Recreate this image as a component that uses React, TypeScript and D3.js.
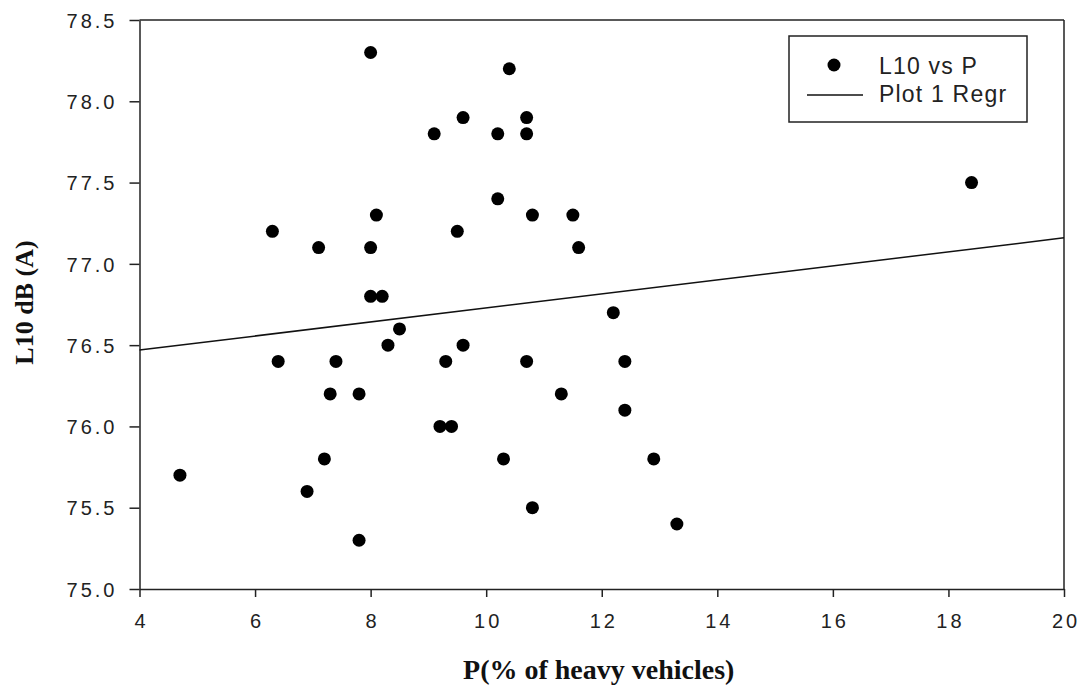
import React, { useEffect, useRef } from 'react'
import * as d3 from 'd3'

// P (% of heavy vehicles) and L10 dB(A)
const pValues = [4.7, 6.3, 6.4, 6.9, 7.1, 7.2, 7.3, 7.4, 7.8, 7.8, 8.0, 8.0, 8.0, 8.1, 8.2, 8.3, 8.5, 9.1, 9.2, 9.3, 9.4, 9.5, 9.6, 9.6, 10.2, 10.2, 10.3, 10.4, 10.7, 10.7, 10.7, 10.8, 10.8, 11.3, 11.5, 11.6, 12.2, 12.4, 12.4, 12.9, 13.3, 18.4]
const l10Values = [75.7, 77.2, 76.4, 75.6, 77.1, 75.8, 76.2, 76.4, 76.2, 75.3, 78.3, 77.1, 76.8, 77.3, 76.8, 76.5, 76.6, 77.8, 76.0, 76.4, 76.0, 77.2, 77.9, 76.5, 77.8, 77.4, 75.8, 78.2, 77.9, 77.8, 76.4, 77.3, 75.5, 76.2, 77.3, 77.1, 76.7, 76.4, 76.1, 75.8, 75.4, 77.5]

// regression line end points (Plot 1 Regr)
const regrP = [4, 20]
const regrL10 = [76.47, 77.16]

const xTicks = [4, 6, 8, 10, 12, 14, 16, 18, 20]
const yTicks = [75.0, 75.5, 76.0, 76.5, 77.0, 77.5, 78.0, 78.5]

const legendLabels = ['L10 vs P', 'Plot 1 Regr']

const W = 1085
const H = 689
const margin = { left: 139.5, right: 21, top: 20, bottom: 100 }

function ScatterChart() {
    const ref = useRef<SVGSVGElement>(null)

    useEffect(() => {
        const svg = d3.select(ref.current)
        svg.selectAll('*').remove()

        const x = d3.scaleLinear().domain([4, 20]).range([margin.left, W - margin.right])
        const y = d3.scaleLinear().domain([75, 78.5]).range([H - margin.bottom, margin.top])

        const axisColor = '#222'
        const tickFont = '"Liberation Sans", Arial, sans-serif'

        // frame top and right
        svg.append('line')
            .attr('x1', x(4)).attr('x2', x(20))
            .attr('y1', y(78.5)).attr('y2', y(78.5))
            .attr('stroke', axisColor).attr('stroke-width', 1.5)
        svg.append('line')
            .attr('x1', x(20)).attr('x2', x(20))
            .attr('y1', y(78.5)).attr('y2', y(75))
            .attr('stroke', axisColor).attr('stroke-width', 1.5)

        const gx = svg.append('g')
            .attr('transform', `translate(0,${y(75)})`)
            .call(d3.axisBottom(x).tickValues(xTicks).tickFormat(d3.format('d')).tickSize(8).tickSizeOuter(0))
        const gy = svg.append('g')
            .attr('transform', `translate(${x(4)},0)`)
            .call(d3.axisLeft(y).tickValues(yTicks).tickFormat(d3.format('.1f')).tickSize(10).tickSizeOuter(0))

        for (const g of [gx, gy]) {
            g.select('.domain').attr('stroke', axisColor).attr('stroke-width', 1.5)
            g.selectAll('.tick line').attr('stroke', axisColor).attr('stroke-width', 1.5)
            g.selectAll('.tick text')
                .attr('fill', axisColor)
                .style('font-family', tickFont)
                .style('font-size', '20px')
                .style('letter-spacing', '3px')
        }
        gx.selectAll('.tick text').attr('y', 25).attr('dy', '0.71em').attr('dx', 1.5)
        gy.selectAll('.tick text').attr('x', -25).attr('dx', 3).attr('dy', '0.36em')

        // regression line
        svg.append('line')
            .attr('x1', x(regrP[0])).attr('x2', x(regrP[1]))
            .attr('y1', y(regrL10[0])).attr('y2', y(regrL10[1]))
            .attr('stroke', '#111').attr('stroke-width', 1.5)

        // points
        svg.append('g')
            .selectAll('circle')
            .data(pValues.map((p, i) => [p, l10Values[i]]))
            .join('circle')
            .attr('cx', d => x(d[0]))
            .attr('cy', d => y(d[1]))
            .attr('r', 6.5)
            .attr('fill', '#000')

        // axis titles
        svg.append('text')
            .attr('x', (x(4) + x(20)) / 2 - 3)
            .attr('y', 679)
            .attr('text-anchor', 'middle')
            .style('font-family', '"Liberation Serif", "Times New Roman", serif')
            .style('font-weight', 'bold')
            .style('font-size', '28px')
            .attr('fill', '#111')
            .text('P(% of heavy vehicles)')

        svg.append('text')
            .attr('transform', `translate(33,${(y(75) + y(78.5)) / 2 - 2}) rotate(-90)`)
            .attr('text-anchor', 'middle')
            .style('font-family', '"Liberation Serif", "Times New Roman", serif')
            .style('font-weight', 'bold')
            .style('font-size', '26px')
            .attr('fill', '#111')
            .text('L10 dB (A)')

        // legend
        const legend = svg.append('g')
        legend.append('rect')
            .attr('x', 789).attr('y', 36)
            .attr('width', 238).attr('height', 86)
            .attr('fill', '#fff').attr('stroke', axisColor).attr('stroke-width', 1.5)
        legend.append('circle')
            .attr('cx', 834).attr('cy', 65).attr('r', 6.5).attr('fill', '#000')
        legend.append('line')
            .attr('x1', 807).attr('x2', 863).attr('y1', 95).attr('y2', 95)
            .attr('stroke', '#111').attr('stroke-width', 1.5)
        legend.selectAll('text.lbl')
            .data(legendLabels)
            .join('text')
            .attr('class', 'lbl')
            .attr('x', 879)
            .attr('y', (d, i) => 74 + i * 28)
            .attr('fill', axisColor)
            .style('font-family', tickFont)
            .style('font-size', '23px')
            .style('letter-spacing', '1.2px')
            .text(d => d)
    }, [])

    return (
        <svg ref={ref} width={W} height={H}
            style={{ position: 'absolute', left: 0, top: 0, background: '#fff' }} />
    )
}

export default function App() {
    return <ScatterChart />
}
